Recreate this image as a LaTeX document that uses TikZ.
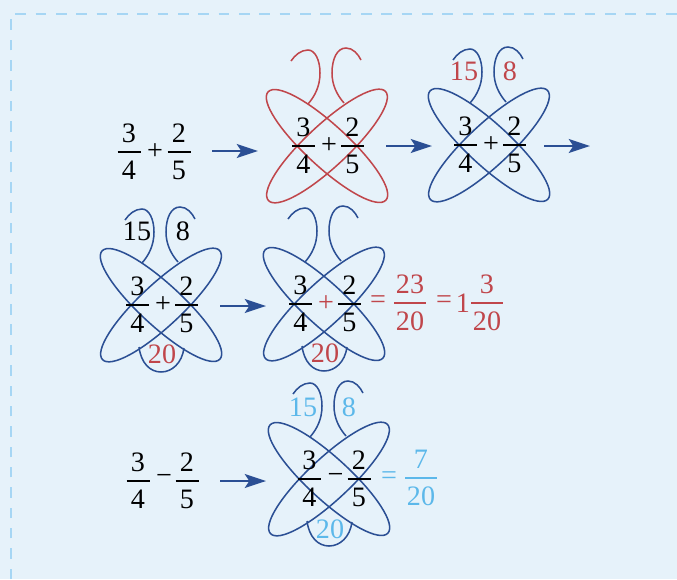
\documentclass[tikz,border=0pt]{standalone}
\usepackage{fontspec}
\setmainfont{Liberation Serif}
\usetikzlibrary{arrows.meta}
\definecolor{paneBg}{HTML}{E6F2FA}
\definecolor{paneDash}{HTML}{A6D6F4}
\definecolor{wingBlue}{HTML}{2B4F94}
\definecolor{wingRed}{HTML}{C0464B}
\definecolor{skyText}{HTML}{5CB8EA}
\tikzset{
  x=0.03cm,y=-0.03cm,
  >={Stealth[length=6.4mm,width=4.2mm,inset=1.4mm]},
  wing/.style={line width=1.3pt},
  flow/.style={->,line width=1.3pt,wingBlue},
  fracbar/.style={line width=1.3pt},
  numtxt/.style={font=\fontsize{24}{25}\selectfont,inner sep=0pt},
}
% one blunt petal along the x axis
\newcommand{\petal}[2]{
  \draw[wing,#1,rotate=#2] (-80,0) .. controls (-80,-12) and (-45,-21) .. (0,-21)
    .. controls (45,-21) and (80,-12) .. (80,0)
    .. controls (80,12) and (45,21) .. (0,21)
    .. controls (-45,21) and (-80,12) .. (-80,0) -- cycle;
}
% ellipses and the two upper loops, around the current origin
\newcommand{\wings}[1]{
  \petal{#1}{-42.6}
  \petal{#1}{43}
  \draw[wing,#1] (-19,-42) .. controls (-12,-50) and (-7,-60) .. (-7,-73)
    .. controls (-7,-86) and (-12,-96) .. (-19,-96)
    .. controls (-26,-96) and (-32,-91) .. (-36,-85);
  \draw[wing,#1] (17,-43) .. controls (10,-51) and (5,-61) .. (5,-73)
    .. controls (5,-87) and (10,-98) .. (19,-98)
    .. controls (26,-98) and (31,-92) .. (34,-86);
}
\newcommand{\belly}[1]{
  \draw[wing,#1] (-22,42) .. controls (-20,58) and (-11,67) .. (0,67)
    .. controls (11,67) and (21,58) .. (23,43);
}
% name, x, y, half width of the bar, numerator, denominator, colour
\newcommand{\frc}[7]{
  \node[numtxt,text=#7] (#1n) at (#2,#3-18.5) {#5};
  \node[numtxt,text=#7] (#1d) at (#2,#3+18.5) {#6};
  \draw[fracbar,#7] (#2,#3) +(-#4,0) -- +(#4,0);
}
\begin{document}
\begin{tikzpicture}
  \useasboundingbox (0,0) rectangle (677,579);
  \fill[paneBg] (0,0) rectangle (677,579);
  \draw[paneDash,line width=2pt,dash pattern=on 0.315cm off 0.295cm]
    (11,579) -- (11,14) -- (677,14);

  % sums on the left
  \frc{sa}{129}{152}{11.5}{3}{4}{black}
  \node[numtxt] (saop) at (155,152) {+};
  \frc{sb}{179}{152}{11.5}{2}{5}{black}

  \begin{scope}[shift={(327,146)}]
    \wings{wingRed}
    \frc{ba}{-23.5}{0}{11.5}{3}{4}{black}
    \node[numtxt] (baop) at (2,0) {+};
    \frc{bb}{25.5}{0}{11.5}{2}{5}{black}
  \end{scope}

  \begin{scope}[shift={(489,145)}]
    \wings{wingBlue}
    \frc{ca}{-23.5}{0}{11.5}{3}{4}{black}
    \node[numtxt] (caop) at (2,0) {+};
    \frc{cb}{25.5}{0}{11.5}{2}{5}{black}
    \node[numtxt,text=wingRed] (cl) at (-25,-74) {15};
    \node[numtxt,text=wingRed] (cr) at (21,-74) {8};
  \end{scope}

  \begin{scope}[shift={(161,305)}]
    \wings{wingBlue}
    \belly{wingBlue}
    \frc{da}{-23.5}{0}{11.5}{3}{4}{black}
    \node[numtxt] (daop) at (2,0) {+};
    \frc{db}{25.5}{0}{11.5}{2}{5}{black}
    \node[numtxt] (dl) at (-24,-74) {15};
    \node[numtxt] (dr) at (22,-74) {8};
    \node[numtxt,text=wingRed] (dm) at (1,49) {20};
  \end{scope}

  \begin{scope}[shift={(324,304)}]
    \wings{wingBlue}
    \belly{wingBlue}
    \frc{ea}{-23.5}{0}{11.5}{3}{4}{black}
    \node[numtxt,text=wingRed] (eaop) at (2,0) {+};
    \frc{eb}{25.5}{0}{11.5}{2}{5}{black}
    \node[numtxt,text=wingRed] (em) at (1,49) {20};
  \end{scope}
  \node[numtxt,text=wingRed] (eq1) at (378,302) {=};
  \frc{ra}{410}{303}{16}{23}{20}{wingRed}
  \node[numtxt,text=wingRed] (eq2) at (444,302) {=};
  \node[numtxt,text=wingRed] (one) at (463,303) {1};
  \frc{rb}{487}{303}{16}{3}{20}{wingRed}

  % subtraction row
  \frc{ta}{138}{481}{11.5}{3}{4}{black}
  \node[numtxt] (taop) at (164,479) {−};
  \frc{tb}{187}{481}{11.5}{2}{5}{black}

  \begin{scope}[shift={(329,479)}]
    \wings{wingBlue}
    \belly{wingBlue}
    \frc{ua}{-19.5}{0}{11.5}{3}{4}{black}
    \node[numtxt] (uaop) at (6.5,-1) {−};
    \frc{ub}{30}{0}{11.5}{2}{5}{black}
    \node[numtxt,text=skyText] (ul) at (-26,-72) {15};
    \node[numtxt,text=skyText] (ur) at (20,-72) {8};
    \node[numtxt,text=skyText] (um) at (1,50) {20};
  \end{scope}
  \node[numtxt,text=skyText] (eq3) at (389,478) {=};
  \frc{va}{421}{478}{16}{7}{20}{skyText}

  % arrows
  \foreach \nm/\xa/\xb/\yy in {fa/212/258/151,fb/386/432/146,fc/544/590/146,fd/220/266/306,fe/220/266/481}{
    \coordinate (\nm s) at (\xa,\yy);
    \coordinate (\nm e) at (\xb,\yy);
    \draw[flow] (\nm s) -- (\nm e);
  }
\end{tikzpicture}
\end{document}
